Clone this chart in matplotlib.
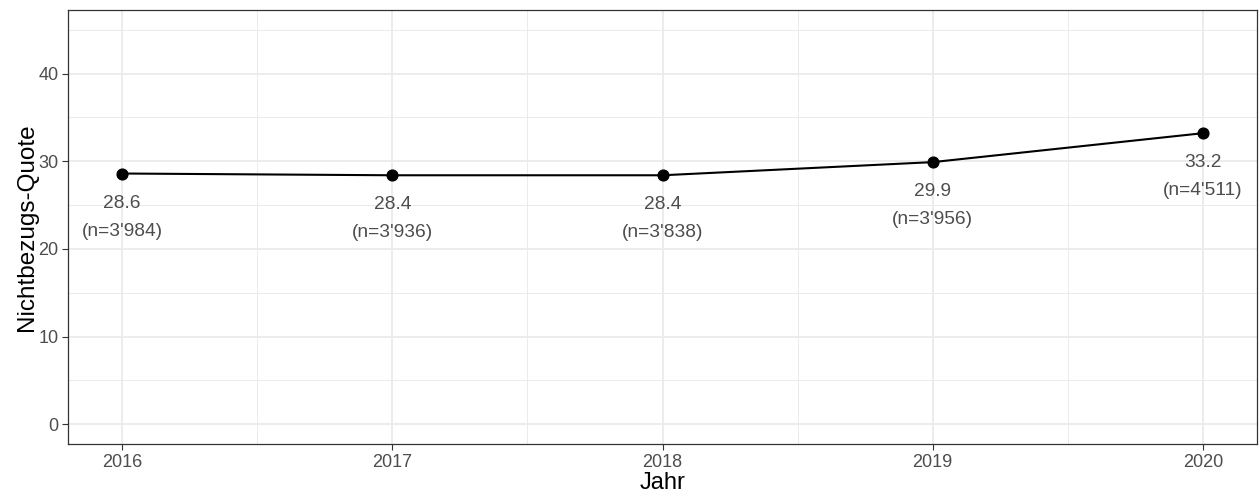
import matplotlib.pyplot as plt
from matplotlib.ticker import MultipleLocator

plt.rcParams["font.family"] = ["Liberation Sans", "DejaVu Sans"]

# Data
years = [2016, 2017, 2018, 2019, 2020]
quote = [28.6, 28.4, 28.4, 29.9, 33.2]
n_obs = ["3'984", "3'936", "3'838", "3'956", "4'511"]

fig = plt.figure(figsize=(12.6, 4.96), dpi=100)
ax = fig.add_axes([68 / 1260, 1 - 444 / 496, (1257 - 68) / 1260, (444 - 10) / 496])

ax.plot(years, quote, color="black", linewidth=1.5, zorder=3)
ax.scatter(years, quote, s=60, color="black", zorder=4)

for x, y, n in zip(years, quote, n_obs):
    ax.annotate(f"{y}\n(n={n})", (x, y), xytext=(0, -21), textcoords="offset pixels",
                ha="center", va="top", fontsize=13.8, color="#4D4D4D", linespacing=1.85)

# Axis ranges with ggplot-like expansion
ax.set_xlim(2016 - 0.2, 2020 + 0.2)
ax.set_ylim(-2.25, 47.25)
ax.xaxis.set_major_locator(MultipleLocator(1))
ax.xaxis.set_minor_locator(MultipleLocator(0.5))
ax.yaxis.set_major_locator(MultipleLocator(10))
ax.yaxis.set_minor_locator(MultipleLocator(5))

ax.grid(which="major", color="#EBEBEB", linewidth=1.3)
ax.grid(which="minor", color="#EBEBEB", linewidth=0.7)
ax.set_axisbelow(True)

for s in ax.spines.values():
    s.set_color("#333333")
    s.set_linewidth(0.9)

ax.tick_params(which="major", length=4, color="#333333", labelsize=13,
               labelcolor="#4D4D4D", pad=3)
ax.tick_params(which="minor", length=0)

ax.set_xlabel("Jahr", fontsize=17, labelpad=1)
ax.set_ylabel("Nichtbezugs-Quote", fontsize=17.5, labelpad=0)

fig.savefig("out.png", dpi=100)
